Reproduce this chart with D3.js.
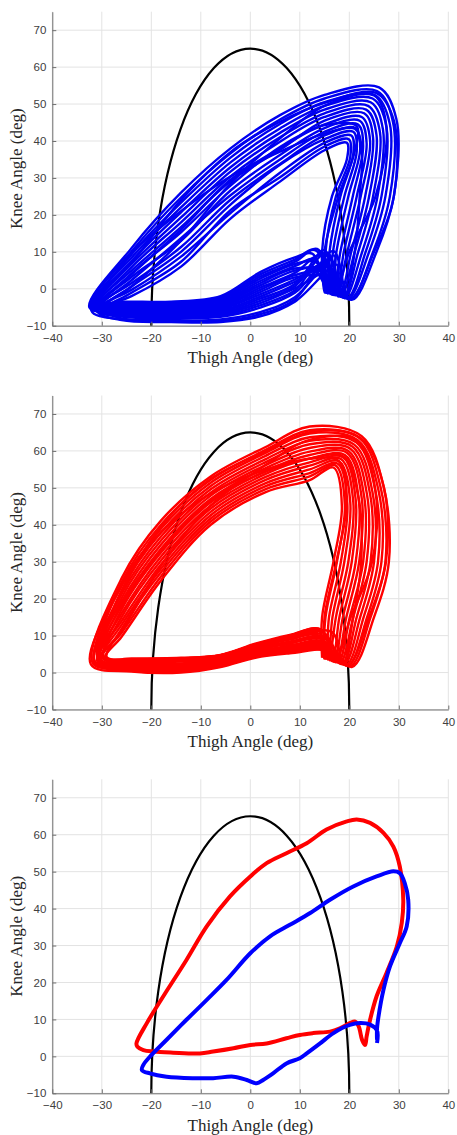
<!DOCTYPE html>
<html>
<head>
<meta charset="utf-8">
<script src="https://cdn.jsdelivr.net/npm/d3@7"></script>
<style>
  html, body { margin: 0; padding: 0; background: #fff; }
  svg { display: block; }
</style>
</head>
<body>
<script>
// ---------- tick labels ----------
const xTicks = [-40, -30, -20, -10, 0, 10, 20, 30, 40];
const yTicks = [-10, 0, 10, 20, 30, 40, 50, 60, 70];
const xDomain = [-40, 40];
const yDomain = [-10, 75];
const xLabel = "Thigh Angle (deg)";
const yLabel = "Knee Angle (deg)";

// ---------- reference half-ellipse (centre, radii) ----------
const ellipseCenter = [0, -10];
const ellipseRadii = [20, 75];

// ---------- panel 1: blue trials (thigh, knee) ----------
const blueTrials = [
  [[-29.5,-5],[-24,-2],[-14,6],[-4,19],[6,29],[15,37.5],[19.5,39.5],[19.5,35],[16.5,25],[14.5,10],[15,-1],[15.5,7],[9,2.5],[2,-1.5],[-6,-5.5],[-16,-6.3],[-26,-6]],
  [[-29.7,-5.8],[-24,-1.1],[-14,7.3],[-4,21.3],[6,30.2],[15,38.5],[19.9,40.5],[20.2,35.7],[17.3,25],[15.2,10],[15.4,-1.1],[17,9],[9,-2.3],[2,-6.3],[-6,-8.3],[-16,-8.5],[-26,-8]],
  [[-29.9,-4.4],[-24,-0.3],[-14,8.7],[-4,20.5],[6,31.4],[15,39.5],[20.4,41.5],[20.8,36.5],[18.2,25],[16,10],[15.7,-1.3],[13,8],[9,6.1],[2,2.1],[-6,-3.4],[-16,-4.6],[-26,-4.5]],
  [[-30.1,-5.4],[-24,0.6],[-14,10],[-4,22.8],[6,33.6],[15,40.5],[20.8,42.5],[21.5,37.2],[19,25],[16.7,10],[16.1,-1.4],[16.5,5],[9,0.1],[2,-3.9],[-6,-6.9],[-16,-7.4],[-26,-7]],
  [[-30.3,-4],[-24,1.5],[-14,11.3],[-4,24.1],[6,33.8],[15,41.5],[21.2,43.5],[22.2,37.9],[19.8,25],[17.4,10],[16.5,-1.5],[12.5,9.5],[9,8.5],[2,4.5],[-6,-2],[-16,-3.5],[-26,-3.5]],
  [[-30.5,-5.2],[-24,2.3],[-14,13.7],[-4,25.3],[6,35],[15,42.5],[21.7,44.5],[22.8,38.7],[20.7,25],[18.2,10],[16.8,-1.7],[15,10.5],[9,1.3],[2,-2.7],[-6,-6.2],[-16,-6.8],[-26,-6.5]],
  [[-30.7,-4.6],[-24,3.2],[-14,13],[-4,26.6],[6,36.2],[15,43.5],[22.1,45.5],[23.5,39.4],[21.5,25],[18.9,10],[17.2,-1.8],[14,5.5],[9,4.9],[2,0.9],[-6,-4.1],[-16,-5.2],[-26,-5]],
  [[-30.9,-6],[-24,4.1],[-14,15.3],[-4,27.9],[6,38.4],[15,44.5],[22.5,46.5],[24.2,40.1],[22.3,25],[19.6,10],[17.6,-1.9],[17.5,6.5],[9,-3.5],[2,-7.5],[-6,-9],[-16,-9],[-26,-8.5]],
  [[-31.1,-4.2],[-24,4.9],[-14,16.7],[-4,29.1],[6,37.6],[15,45.5],[23,47.5],[24.8,40.9],[23.2,25],[20.4,10],[17.9,-2.1],[13.5,10.8],[9,7.3],[2,3.3],[-6,-2.7],[-16,-4.1],[-26,-4]],
  [[-31.3,-5.6],[-24,5.8],[-14,18],[-4,30.4],[6,39.8],[15,46.5],[23.4,48.5],[25.5,41.6],[24,25],[21.1,10],[18.3,-2.2],[16,8],[9,-1.1],[2,-5.1],[-6,-7.6],[-16,-7.9],[-26,-7.5]],
  [[-31.5,-4.8],[-24,6.7],[-14,19.3],[-4,31.7],[6,41],[15,47.5],[23.8,49.5],[26.2,42.3],[24.8,25],[21.8,10],[18.7,-2.3],[14.5,4.5],[9,3.7],[2,-0.3],[-6,-4.8],[-16,-5.7],[-26,-5.5]],
  [[-31.7,-5.3],[-24,7.5],[-14,20.7],[-4,32.9],[6,42.2],[15,48.5],[24.3,50.5],[26.8,43.1],[25.7,25],[22.6,10],[19,-2.5],[15.5,9.8],[9,0.7],[2,-3.3],[-6,-6.6],[-16,-7.1],[-26,-6.8]],
  [[-31.9,-4.3],[-24,8.4],[-14,22],[-4,34.2],[6,43.4],[15,49.5],[24.7,51.5],[27.5,43.8],[26.5,25],[23.3,10],[19.4,-2.6],[13.2,7.2],[9,6.7],[2,2.7],[-6,-3],[-16,-4.3],[-26,-4.3]],
  [[-32.1,-5.9],[-24,9.3],[-14,23.3],[-4,35.5],[6,44.6],[15,50.5],[25.1,52.5],[28.2,44.5],[27.3,25],[24,10],[19.8,-2.7],[16.8,10.2],[9,-2.9],[2,-6.9],[-6,-8.7],[-16,-8.7],[-26,-8.3]],
  [[-32.3,-4.7],[-24,10.1],[-14,24.7],[-4,36.7],[6,45.8],[15,51.5],[25.6,53.5],[28.8,45.3],[28.2,25],[24.8,10],[20.1,-2.9],[14.2,9],[9,4.3],[2,0.3],[-6,-4.5],[-16,-5.4],[-26,-5.3]],
  [[-32.5,-5.1],[-24,11],[-14,26],[-4,38],[6,47],[15,52.5],[26,54.5],[29.5,46],[29,25],[25.5,10],[20.5,-3],[15.8,6],[9,1.9],[2,-2.1],[-6,-5.9],[-16,-6.5],[-26,-6.3]],
  [[-32.2,-4.5],[-24,9.7],[-14,21],[-4,30.4],[6,37.1],[15,42],[21.1,43.3],[22.5,38.3],[22.1,25],[21.1,10],[18.9,-2.4],[16.5,4],[9,5.5],[2,1.5],[-6,-3.8],[-16,-4.9],[-26,-4.8]],
  [[-30.1,-5.5],[-24,0.6],[-14,13],[-4,28.5],[6,40.7],[15,49.5],[25,52.3],[27.5,43.8],[25.3,25],[20,10],[16.7,-1.6],[12.8,5],[9,-0.5],[2,-4.5],[-6,-7.3],[-16,-7.6],[-26,-7.3]],
  [[-31,-4.9],[-24,3.9],[-14,16],[-4,29.5],[6,38],[15,44.3],[21.5,44],[21,36.7],[17.8,25],[15,10],[15.3,-1.1],[17,3],[9,3.1],[2,-0.9],[-6,-5.2],[-16,-6],[-26,-5.8]],
  [[-32.1,-4.1],[-24,7.1],[-14,24],[-4,37],[6,45.2],[15,50.3],[25.4,53],[29,45.5],[29,25],[25,10],[20,-2.8],[13,10.5],[9,7.9],[2,3.9],[-6,-2.4],[-16,-3.8],[-26,-3.8]]
];

// ---------- panel 2: red trials (thigh, knee) ----------
const redTrials = [
  [[-29.3,4],[-26,9.7],[-18,25],[-8,40],[3,48.8],[12,52.1],[16.8,55.5],[18.5,45],[16.8,30],[14.5,15],[14.5,4],[14.5,9.6],[8,8.4],[1,6.4],[-6,3.6],[-14,2.5],[-24,2.5]],
  [[-30.3,3.4],[-26,10.8],[-18,26.1],[-8,40.9],[3,49.6],[12,53.1],[17.2,56.1],[19.1,45.3],[17.5,30],[15.2,15],[14.9,3.8],[15.5,6.9],[8,6],[1,4.6],[-6,2],[-14,0.6],[-24,0.9]],
  [[-29,4.2],[-26,11.8],[-18,27.2],[-8,41.7],[3,50.4],[12,54],[17.6,56.6],[19.6,45.7],[18.3,30],[15.9,15],[15.3,3.7],[13.8,11.4],[8,10],[1,7.6],[-6,4.7],[-14,3.8],[-24,3.6]],
  [[-30.1,3.5],[-26,12.9],[-18,28.2],[-8,42.6],[3,51.2],[12,55],[17.9,57.2],[20.2,46],[19,30],[16.6,15],[15.7,3.5],[14.5,8.4],[8,7.3],[1,5.6],[-6,2.9],[-14,1.7],[-24,1.8]],
  [[-30.9,3],[-26,13.9],[-18,29.3],[-8,43.5],[3,52.1],[12,56],[18.3,57.8],[20.8,46.3],[19.8,30],[17.3,15],[16.1,3.3],[16.2,6.3],[8,5.5],[1,4.2],[-6,1.7],[-14,0.2],[-24,0.5]],
  [[-29.7,3.8],[-26,15],[-18,30.4],[-8,44.4],[3,52.9],[12,56.9],[18.7,58.3],[21.3,46.7],[20.5,30],[18,15],[16.5,3.2],[14,10.5],[8,9.2],[1,7],[-6,4.1],[-14,3.2],[-24,3.1]],
  [[-30.7,3.1],[-26,16],[-18,31.5],[-8,45.2],[3,53.7],[12,57.9],[19.1,58.9],[21.9,47],[21.3,30],[18.7,15],[16.9,3],[15,7.8],[8,6.8],[1,5.2],[-6,2.6],[-14,1.3],[-24,1.4]],
  [[-29.5,3.9],[-26,17.1],[-18,32.6],[-8,46.1],[3,54.5],[12,58.9],[19.5,59.5],[22.5,47.3],[22,30],[19.4,15],[17.3,2.8],[14.2,11.7],[8,10.2],[1,7.8],[-6,4.8],[-14,4],[-24,3.8]],
  [[-30.6,3.2],[-26,18.1],[-18,33.6],[-8,47],[3,55.3],[12,59.8],[19.8,60],[23,47.7],[22.8,30],[20.1,15],[17.7,2.7],[14.5,9],[8,7.9],[1,6],[-6,3.3],[-14,2.1],[-24,2.2]],
  [[-31.5,2.6],[-26,19.2],[-18,34.7],[-8,47.9],[3,56.1],[12,60.8],[20.2,60.6],[23.6,48],[23.5,30],[20.8,15],[18.1,2.5],[15.8,6.6],[8,5.7],[1,4.4],[-6,1.9],[-14,0.4],[-24,0.7]],
  [[-30.4,3.3],[-26,20.2],[-18,35.8],[-8,48.7],[3,56.9],[12,61.8],[20.6,61.2],[24.2,48.3],[24.3,30],[21.5,15],[18.5,2.3],[13.6,10.2],[8,8.9],[1,6.8],[-6,4],[-14,3],[-24,2.9]],
  [[-31.5,2.7],[-26,21.3],[-18,36.9],[-8,49.6],[3,57.7],[12,62.7],[21,61.7],[24.7,48.7],[25,30],[22.2,15],[18.9,2.2],[15.2,7.5],[8,6.5],[1,5],[-6,2.4],[-14,1.1],[-24,1.2]],
  [[-30.4,3.3],[-26,22.3],[-18,38],[-8,50.5],[3,58.6],[12,63.7],[21.4,62.3],[25.3,49],[25.8,30],[22.9,15],[19.3,2],[14.5,11.1],[8,9.7],[1,7.4],[-6,4.5],[-14,3.6],[-24,3.5]],
  [[-32.2,2.2],[-26,23.4],[-18,39],[-8,51.4],[3,59.4],[12,64.7],[21.7,62.9],[25.9,49.3],[26.5,30],[23.6,15],[19.7,1.8],[16.5,6],[8,5.2],[1,4],[-6,1.5],[-14,0],[-24,0.3]],
  [[-31.3,2.8],[-26,24.4],[-18,40.1],[-8,52.2],[3,60.2],[12,65.6],[22.1,63.4],[26.4,49.7],[27.3,30],[24.3,15],[20.1,1.7],[14.8,9.3],[8,8.1],[1,6.2],[-6,3.4],[-14,2.3],[-24,2.3]],
  [[-31.8,2.4],[-26,25.5],[-18,41.2],[-8,53.1],[3,61],[12,66.6],[22.5,64],[27,50],[28,30],[25,15],[20.5,1.5],[15.4,8.1],[8,7.1],[1,5.4],[-6,2.7],[-14,1.5],[-24,1.6]],
  [[-30.7,3.1],[-26,23.9],[-18,38],[-8,48.5],[3,54.9],[12,57.9],[18.8,58.5],[21.9,47],[22.4,30],[20.8,15],[18.7,2.3],[16.5,11],[8,9.4],[1,7.2],[-6,4.3],[-14,3.4],[-24,3.3]],
  [[-30.3,3.4],[-26,11.3],[-18,29],[-8,45.2],[3,56.1],[12,63],[21.6,62.7],[25.3,49],[24.6,30],[20.3,15],[16.9,3],[13.5,7],[8,6.3],[1,4.8],[-6,2.2],[-14,0.8],[-24,1]],
  [[-30.1,3.5],[-26,18.4],[-18,33.1],[-8,46.6],[3,54.3],[12,57.9],[17.9,57.2],[19.4,45.5],[17.4,30],[15,15],[15.1,3.8],[16,5],[8,7.6],[1,5.8],[-6,3.1],[-14,1.9],[-24,2]],
  [[-30.5,3.3],[-26,21.6],[-18,39.6],[-8,52.4],[3,59.8],[12,65.1],[22.2,63.6],[27,50],[27.4,30],[24,15],[19.6,1.9],[13.8,11.8],[8,10],[1,7.6],[-6,4.7],[-14,3.8],[-24,3.6]]
];

// ---------- panel 3: mean curves (thigh, knee) ----------
const redMean = [[-23,3.5],[-20.9,9],[-17.6,16.2],[-12.9,26.1],[-8.8,35.2],[-4.1,43.3],[0,48.7],[3.3,52.3],[7.3,55],[11.4,57.7],[15.4,61.4],[19.5,63.6],[21.5,64.1],[24.2,63.2],[26.9,60.5],[28.9,56.8],[30.2,51.4],[30.9,42.4],[30.6,36.1],[29.6,29.7],[27.5,22.5],[25.5,16.2],[24.2,9.9],[23.5,5.4],[23.2,3.1],[22.6,4.4],[21.9,8.1],[21.2,9.4],[20.1,9],[18.1,7.6],[16.1,6.7],[12.7,6.3],[10,5.8],[7.3,4.9],[3.3,3.5],[0,3.1],[-3.4,2.2],[-7.5,1.3],[-10.2,0.8],[-15.6,1],[-19.6,1.3],[-21.6,1.7],[-22.8,2.6]];
const blueMean = [[25.6,3.6],[25.6,7],[24.2,8.6],[22.2,9],[20.1,8.5],[16.8,6.3],[14.1,3.5],[11.4,0.8],[10,-0.5],[7.3,-1.9],[4.6,-4.6],[2.6,-6.4],[1.3,-7.3],[-0.7,-6.4],[-3.4,-5.5],[-7.5,-5.9],[-11.5,-5.9],[-16.9,-5.5],[-20.3,-4.6],[-21.9,-3.7],[-21.6,-2.3],[-20.3,-0.1],[-16.9,4.5],[-12.9,9.9],[-8.8,15.3],[-4.8,20.7],[0,27.9],[4,32.5],[8,35.6],[12.1,38.8],[16.1,42.4],[20.8,46],[25.5,48.7],[28.9,50.1],[30.2,49.6],[31.2,46.9],[31.9,42.4],[31.6,35.2],[30.2,30.6],[28.2,24.3],[26.9,18],[25.9,10.8],[25.6,7.5],[25.6,4.5]];

// ---------- drawing ----------
const W = 457, H = 1135;
const svg = d3.select("body").append("svg").attr("width", W).attr("height", H);
svg.append("rect").attr("width", W).attr("height", H).attr("fill", "#fff");

const panelOffsets = [0, 383.8, 767.6];
const left = 52.3, right = 448.3, top0 = 11.7, bottom0 = 325.7;

function panel(idx, drawFn) {
  const off = panelOffsets[idx];
  const x = d3.scaleLinear().domain(xDomain).range([left, right]);
  const y = d3.scaleLinear().domain(yDomain).range([off + bottom0, off + top0]);
  const g = svg.append("g");

  const clipId = "clip" + idx;
  g.append("clipPath").attr("id", clipId).append("rect")
    .attr("x", x(-40)).attr("y", y(75)).attr("width", x(40) - x(-40)).attr("height", y(-10) - y(75));

  // grid
  g.append("g").selectAll("line").data(xTicks).join("line")
    .attr("x1", d => x(d)).attr("x2", d => x(d)).attr("y1", y(-10)).attr("y2", y(75))
    .attr("stroke", "#e3e3e3").attr("stroke-width", 1);
  g.append("g").selectAll("line").data(yTicks).join("line")
    .attr("y1", d => y(d)).attr("y2", d => y(d)).attr("x1", x(-40)).attr("x2", x(40))
    .attr("stroke", "#e3e3e3").attr("stroke-width", 1);

  const plot = g.append("g").attr("clip-path", `url(#${clipId})`);

  // reference ellipse
  plot.append("ellipse")
    .attr("cx", x(ellipseCenter[0])).attr("cy", y(ellipseCenter[1]))
    .attr("rx", x(ellipseRadii[0]) - x(0)).attr("ry", y(-10) - y(-10 + ellipseRadii[1]))
    .attr("fill", "none").attr("stroke", "#000").attr("stroke-width", 2.2);

  drawFn(plot, x, y);

  // axes
  const ax = g.append("g").attr("transform", `translate(0,${y(-10)})`)
    .call(d3.axisBottom(x).tickValues(xTicks).tickFormat(d3.format("d")).tickSizeInner(-4).tickSizeOuter(0).tickPadding(8));
  const ay = g.append("g").attr("transform", `translate(${x(-40)},0)`)
    .call(d3.axisLeft(y).tickValues(yTicks).tickFormat(d3.format("d")).tickSizeInner(-4).tickSizeOuter(0).tickPadding(6));
  [ax, ay].forEach(a => {
    a.select(".domain").attr("stroke", "#707070");
    a.selectAll(".tick line").attr("stroke", "#707070");
    a.selectAll(".tick text").attr("fill", "#404040")
      .style("font-family", "'Liberation Sans', Arial, sans-serif").style("font-size", "11.5px");
  });

  g.append("text").attr("x", x(0)).attr("y", off + 363)
    .attr("text-anchor", "middle").attr("fill", "#262626")
    .style("font-family", "'Liberation Serif', 'Times New Roman', serif").style("font-size", "17px")
    .text(xLabel);
  g.append("text").attr("transform", `translate(22,${(y(-10) + y(75)) / 2}) rotate(-90)`)
    .attr("text-anchor", "middle").attr("fill", "#262626")
    .style("font-family", "'Liberation Serif', 'Times New Roman', serif").style("font-size", "17px")
    .text(yLabel);
}

function trialLine(x, y) {
  return d3.line().x(d => x(d[0])).y(d => y(d[1])).curve(d3.curveCatmullRomClosed.alpha(0.5));
}

panel(0, (p, x, y) => {
  p.append("g").selectAll("path").data(blueTrials).join("path")
    .attr("d", trialLine(x, y)).attr("fill", "none")
    .attr("stroke", "#0000f0").attr("stroke-width", 2.4);
});
panel(1, (p, x, y) => {
  p.append("g").selectAll("path").data(redTrials).join("path")
    .attr("d", trialLine(x, y)).attr("fill", "none")
    .attr("stroke", "#ff0000").attr("stroke-width", 2.4);
});
panel(2, (p, x, y) => {
  p.append("path").datum(redMean)
    .attr("d", trialLine(x, y)).attr("fill", "none")
    .attr("stroke", "#ff0000").attr("stroke-width", 4);
  p.append("path").datum(blueMean)
    .attr("d", d3.line().x(d => x(d[0])).y(d => y(d[1])).curve(d3.curveCatmullRom.alpha(0.5)))
    .attr("fill", "none").attr("stroke", "#0000ff").attr("stroke-width", 4);
});
</script>
</body>
</html>
